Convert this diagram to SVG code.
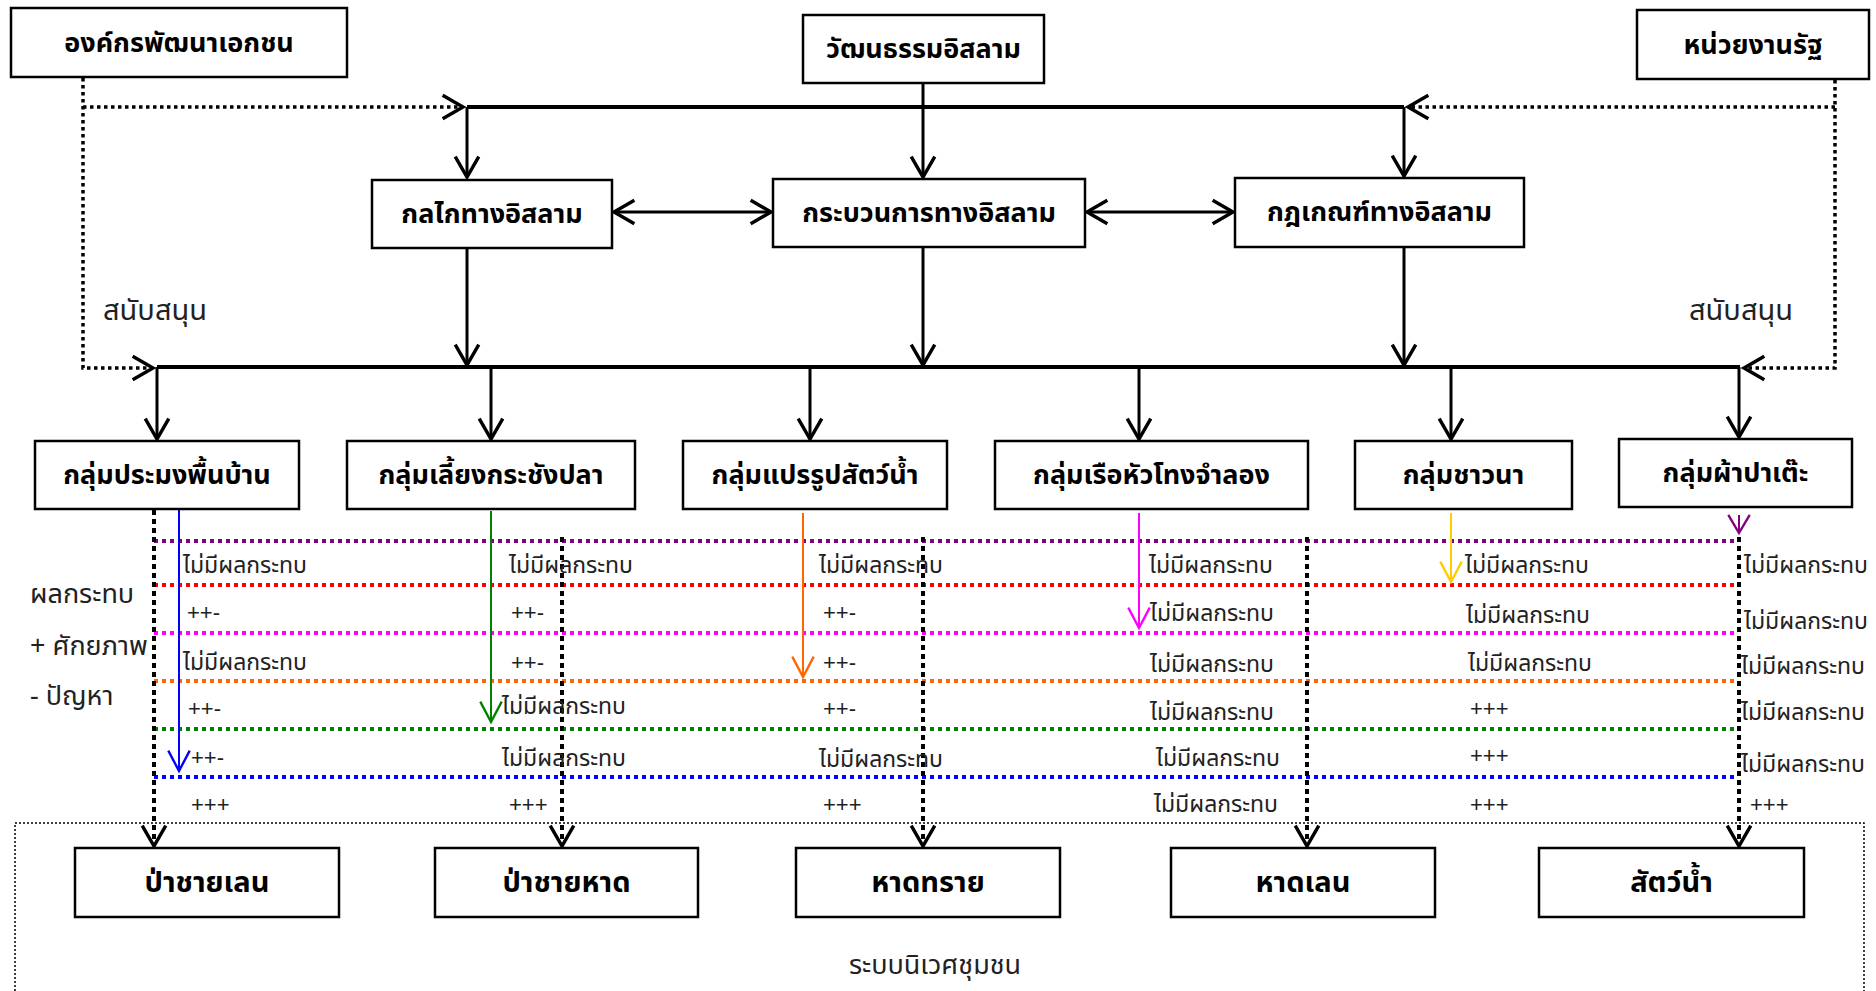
<svg xmlns="http://www.w3.org/2000/svg" width="1876" height="991" viewBox="0 0 1876 991">
<style>
.box{fill:#fff;stroke:#000;stroke-width:2.5}
.t{font-family:"Noto Sans Thai","Noto Sans Thai UI","Loma","Garuda","Tlwg Typo","Liberation Sans","DejaVu Sans",sans-serif;fill:#000}
.bt{font-size:27px;font-weight:bold;text-anchor:middle}
.bb{font-size:29px;font-weight:bold;text-anchor:middle}
.m{font-size:23px;fill:#222}
.pm{font-family:"Liberation Sans",sans-serif;font-size:22px;fill:#222}
.lab{font-size:27px;fill:#222}
.sup{font-size:29px;fill:#222}
.solid{fill:none;stroke:#000;stroke-width:3}
.bar{fill:none;stroke:#000;stroke-width:4}
.dot{fill:none;stroke:#000;stroke-width:3.5;stroke-dasharray:3.5 3.5}
.vdot{fill:none;stroke:#000;stroke-width:4;stroke-dasharray:5 4}
.hdot{fill:none;stroke-width:4;stroke-dasharray:4 4}
.carr{fill:none;stroke-width:2}
</style>
<defs>
<marker id="ah" markerUnits="userSpaceOnUse" markerWidth="30" markerHeight="30" viewBox="-22 -14 26 28" refX="0" refY="0" orient="auto-start-reverse" overflow="visible">
<path d="M-19,-11 L0,0 L-19,11" fill="none" stroke="#000" stroke-width="3.2"/>
</marker>
<marker id="ahb" markerUnits="userSpaceOnUse" markerWidth="30" markerHeight="30" viewBox="-22 -14 26 28" refX="0" refY="0" orient="auto" overflow="visible"><path d="M-19,-10 L0,0 L-19,10" fill="none" stroke="#0000ff" stroke-width="2.2"/></marker>
<marker id="ahg" markerUnits="userSpaceOnUse" markerWidth="30" markerHeight="30" viewBox="-22 -14 26 28" refX="0" refY="0" orient="auto" overflow="visible"><path d="M-19,-10 L0,0 L-19,10" fill="none" stroke="#008000" stroke-width="2.2"/></marker>
<marker id="aho" markerUnits="userSpaceOnUse" markerWidth="30" markerHeight="30" viewBox="-22 -14 26 28" refX="0" refY="0" orient="auto" overflow="visible"><path d="M-19,-10 L0,0 L-19,10" fill="none" stroke="#ff6600" stroke-width="2.2"/></marker>
<marker id="ahm" markerUnits="userSpaceOnUse" markerWidth="30" markerHeight="30" viewBox="-22 -14 26 28" refX="0" refY="0" orient="auto" overflow="visible"><path d="M-19,-10 L0,0 L-19,10" fill="none" stroke="#ff00ff" stroke-width="2.2"/></marker>
<marker id="ahy" markerUnits="userSpaceOnUse" markerWidth="30" markerHeight="30" viewBox="-22 -14 26 28" refX="0" refY="0" orient="auto" overflow="visible"><path d="M-19,-10 L0,0 L-19,10" fill="none" stroke="#ffcc00" stroke-width="2.2"/></marker>
<marker id="ahp" markerUnits="userSpaceOnUse" markerWidth="30" markerHeight="30" viewBox="-22 -14 26 28" refX="0" refY="0" orient="auto" overflow="visible"><path d="M-17,-10 L0,0 L-17,10" fill="none" stroke="#800080" stroke-width="2.2"/></marker>
</defs>
<rect width="1876" height="991" fill="#fff"/>

<g id="container">
<path d="M15,991 V823 H1864 V991" fill="none" stroke="#000" stroke-width="1.5" stroke-dasharray="2 2"/>
<text class="t lab" x="935" y="974" text-anchor="middle">ระบบนิเวศชุมชน</text>
</g>

<g id="connectors">
<path class="solid" d="M923,83 V177" marker-end="url(#ah)"/>
<path class="bar" d="M467,107 H1404"/>
<path class="solid" d="M467,107 V177" marker-end="url(#ah)"/>
<path class="solid" d="M1404,107 V176" marker-end="url(#ah)"/>
<path class="solid" d="M614,212 H771" marker-start="url(#ah)" marker-end="url(#ah)"/>
<path class="solid" d="M1087,212 H1233" marker-start="url(#ah)" marker-end="url(#ah)"/>
<path class="solid" d="M467,248 V365" marker-end="url(#ah)"/>
<path class="solid" d="M923,247 V365" marker-end="url(#ah)"/>
<path class="solid" d="M1404,247 V365" marker-end="url(#ah)"/>
<path class="bar" d="M157,367 H1740"/>
<path class="solid" d="M157,367 V439" marker-end="url(#ah)"/>
<path class="solid" d="M491,367 V439" marker-end="url(#ah)"/>
<path class="solid" d="M810,367 V439" marker-end="url(#ah)"/>
<path class="solid" d="M1139,367 V439" marker-end="url(#ah)"/>
<path class="solid" d="M1451,367 V439" marker-end="url(#ah)"/>
<path class="solid" d="M1739,367 V437" marker-end="url(#ah)"/>
<path class="dot" d="M83,78 V368 H153" marker-end="url(#ah)"/>
<path class="dot" d="M83,107 H463" marker-end="url(#ah)"/>
<path class="dot" d="M1835,80 V368 H1744" marker-end="url(#ah)"/>
<path class="dot" d="M1835,107 H1408" marker-end="url(#ah)"/>

<path class="hdot" stroke="#800080" d="M154,541 H1735"/>
<path class="hdot" stroke="#ff0000" d="M154,585 H1735"/>
<path class="hdot" stroke="#ff00ff" d="M154,633 H1735"/>
<path class="hdot" stroke="#ff6600" d="M154,681 H1735"/>
<path class="hdot" stroke="#008000" d="M154,729 H1735"/>
<path class="hdot" stroke="#0000ff" d="M154,777 H1735"/>

<path class="vdot" d="M154,510 V846" marker-end="url(#ah)"/>
<path class="vdot" d="M562,537 V846" marker-end="url(#ah)"/>
<path class="vdot" d="M923,537 V846" marker-end="url(#ah)"/>
<path class="vdot" d="M1307,537 V846" marker-end="url(#ah)"/>
<path class="vdot" d="M1739,537 V846" marker-end="url(#ah)"/>

<path class="carr" stroke="#0000ff" d="M179,509 V771" marker-end="url(#ahb)"/>
<path class="carr" stroke="#008000" d="M491,511 V722" marker-end="url(#ahg)"/>
<path class="carr" stroke="#ff6600" d="M803,513 V677" marker-end="url(#aho)"/>
<path class="carr" stroke="#ff00ff" d="M1139,513 V628" marker-end="url(#ahm)"/>
<path class="carr" stroke="#ffcc00" d="M1451,513 V582" marker-end="url(#ahy)"/>
<path class="carr" stroke="#800080" d="M1739,515 V533" marker-end="url(#ahp)"/>
</g>

<g id="n_ngo"><rect class="box" x="11" y="8" width="336" height="69"/><text class="t bt" x="179" y="52">องค์กรพัฒนาเอกชน</text></g>
<g id="n_culture"><rect class="box" x="803" y="15" width="241" height="68"/><text class="t bt" x="923.5" y="58">วัฒนธรรมอิสลาม</text></g>
<g id="n_gov"><rect class="box" x="1637" y="10" width="232" height="69"/><text class="t bt" x="1753" y="54">หน่วยงานรัฐ</text></g>
<g id="n_mech"><rect class="box" x="372" y="180" width="240" height="68"/><text class="t bt" x="492" y="223">กลไกทางอิสลาม</text></g>
<g id="n_proc"><rect class="box" x="773" y="179" width="312" height="68"/><text class="t bt" x="929" y="222">กระบวนการทางอิสลาม</text></g>
<g id="n_rule"><rect class="box" x="1235" y="178" width="289" height="69"/><text class="t bt" x="1379.5" y="221">กฎเกณฑ์ทางอิสลาม</text></g>

<g id="g1"><rect class="box" x="35" y="441" width="264" height="68"/><text class="t bt" x="167" y="484">กลุ่มประมงพื้นบ้าน</text></g>
<g id="g2"><rect class="box" x="347" y="441" width="288" height="68"/><text class="t bt" x="491" y="484">กลุ่มเลี้ยงกระชังปลา</text></g>
<g id="g3"><rect class="box" x="683" y="441" width="264" height="68"/><text class="t bt" x="815" y="484">กลุ่มแปรรูปสัตว์น้ำ</text></g>
<g id="g4"><rect class="box" x="995" y="441" width="313" height="68"/><text class="t bt" x="1151.5" y="484">กลุ่มเรือหัวโทงจำลอง</text></g>
<g id="g5"><rect class="box" x="1355" y="441" width="217" height="68"/><text class="t bt" x="1463.5" y="484">กลุ่มชาวนา</text></g>
<g id="g6"><rect class="box" x="1619" y="439" width="233" height="68"/><text class="t bt" x="1735.5" y="482">กลุ่มผ้าปาเต๊ะ</text></g>

<g id="b1"><rect class="box" x="75" y="848" width="264" height="69"/><text class="t bb" x="207" y="892">ป่าชายเลน</text></g>
<g id="b2"><rect class="box" x="435" y="848" width="263" height="69"/><text class="t bb" x="566.5" y="892">ป่าชายหาด</text></g>
<g id="b3"><rect class="box" x="796" y="848" width="264" height="69"/><text class="t bb" x="928" y="892">หาดทราย</text></g>
<g id="b4"><rect class="box" x="1171" y="848" width="264" height="69"/><text class="t bb" x="1303" y="892">หาดเลน</text></g>
<g id="b5"><rect class="box" x="1539" y="848" width="265" height="69"/><text class="t bb" x="1671.5" y="892">สัตว์น้ำ</text></g>

<g id="labels">
<text class="t sup" x="103" y="320">สนับสนุน</text>
<text class="t sup" x="1689" y="320">สนับสนุน</text>
<text class="t lab" x="30" y="603">ผลกระทบ</text>
<text class="t lab" x="30" y="655">+ ศักยภาพ</text>
<text class="t lab" x="30" y="705">- ปัญหา</text>
</g>

<g id="matrix">
<text class="t m" x="183" y="573">ไม่มีผลกระทบ</text>
<text class="t m" x="509" y="573">ไม่มีผลกระทบ</text>
<text class="t m" x="819" y="573">ไม่มีผลกระทบ</text>
<text class="t m" x="1149" y="573">ไม่มีผลกระทบ</text>
<text class="t m" x="1465" y="573">ไม่มีผลกระทบ</text>
<text class="t m" x="1744" y="573">ไม่มีผลกระทบ</text>

<text class="pm" x="187" y="620">++-</text>
<text class="pm" x="511" y="620">++-</text>
<text class="pm" x="823" y="620">++-</text>
<text class="t m" x="1150" y="621">ไม่มีผลกระทบ</text>
<text class="t m" x="1466" y="623">ไม่มีผลกระทบ</text>
<text class="t m" x="1744" y="629">ไม่มีผลกระทบ</text>

<text class="t m" x="183" y="670">ไม่มีผลกระทบ</text>
<text class="pm" x="511" y="670">++-</text>
<text class="pm" x="823" y="670">++-</text>
<text class="t m" x="1150" y="672">ไม่มีผลกระทบ</text>
<text class="t m" x="1468" y="671">ไม่มีผลกระทบ</text>
<text class="t m" x="1741" y="674">ไม่มีผลกระทบ</text>

<text class="pm" x="188" y="716">++-</text>
<text class="t m" x="502" y="714">ไม่มีผลกระทบ</text>
<text class="pm" x="823" y="716">++-</text>
<text class="t m" x="1150" y="720">ไม่มีผลกระทบ</text>
<text class="pm" x="1470" y="716">+++</text>
<text class="t m" x="1741" y="720">ไม่มีผลกระทบ</text>

<text class="pm" x="191" y="765">++-</text>
<text class="t m" x="502" y="766">ไม่มีผลกระทบ</text>
<text class="t m" x="819" y="767">ไม่มีผลกระทบ</text>
<text class="t m" x="1156" y="766">ไม่มีผลกระทบ</text>
<text class="pm" x="1470" y="763">+++</text>
<text class="t m" x="1741" y="772">ไม่มีผลกระทบ</text>

<text class="pm" x="191" y="812">+++</text>
<text class="pm" x="509" y="812">+++</text>
<text class="pm" x="823" y="812">+++</text>
<text class="t m" x="1154" y="812">ไม่มีผลกระทบ</text>
<text class="pm" x="1470" y="812">+++</text>
<text class="pm" x="1750" y="812">+++</text>
</g>
</svg>
